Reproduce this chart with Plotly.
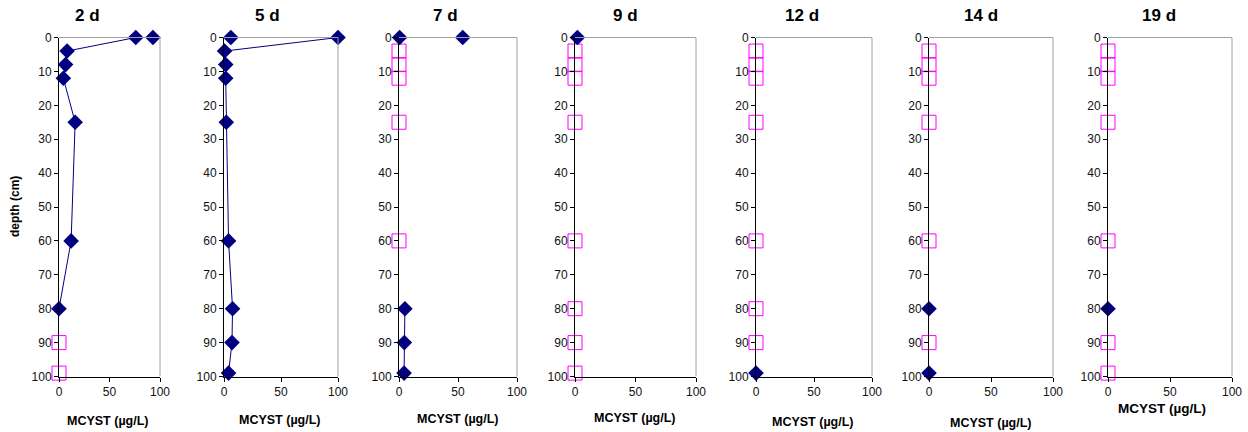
import plotly.graph_objects as go

W, H = 1248, 432

# ---------------- data ----------------
day_labels = ["2 d", "5 d", "7 d", "9 d", "12 d", "14 d", "19 d"]
depths = [0, 0, 4, 8, 12, 25, 60, 80, 90, 99]
N = None

# measured MCYST (µg/L), aligned with depths
mcyst_2d = [93, 76, 8, 6.5, 4.3, 16, 12, 0, N, N]
mcyst_5d = [6, 100, 0.5, 1.5, 1.5, 2, 4, 7.5, 7, 4]
mcyst_7d = [0.5, 54, N, N, N, N, N, 5, 4.5, 4.3]
mcyst_9d = [2, N, N, N, N, N, N, N, N, N]
mcyst_12d = [N, N, N, N, N, N, N, N, N, 0]
mcyst_14d = [N, N, N, N, N, N, N, 0, N, 0]
mcyst_19d = [N, N, N, N, N, N, N, 0, N, N]

# below detection limit markers, aligned with depths
bdl_2d = [N, N, N, N, N, N, N, N, 0, 0]
bdl_5d = [N, N, N, N, N, N, N, N, N, N]
bdl_7d = [N, N, 0, 0, 0, 0, 0, N, N, N]
bdl_9d = [N, N, 0, 0, 0, 0, 0, 0, 0, 0]
bdl_12d = [N, N, 0, 0, 0, 0, 0, 0, 0, N]
bdl_14d = [N, N, 0, 0, 0, 0, 0, N, 0, N]
bdl_19d = [N, N, 0, 0, 0, 0, 0, N, 0, 0]

mcyst = [mcyst_2d, mcyst_5d, mcyst_7d, mcyst_9d, mcyst_12d, mcyst_14d, mcyst_19d]
bdl = [bdl_2d, bdl_5d, bdl_7d, bdl_9d, bdl_12d, bdl_14d, bdl_19d]

x_ticks = [0, 50, 100]
y_ticks = [0, 10, 20, 30, 40, 50, 60, 70, 80, 90, 100]
x_title = "MCYST (µg/L)"
y_title = "depth (cm)"

# ---------------- layout geometry (pixels) ----------------
px_left = [59, 224, 399, 575, 756, 929, 1108]
px_right = [160, 338, 517, 696, 872, 1053, 1232]
px_top, px_bottom = 37.5, 376.5
title_x = [87, 267, 445, 625, 802, 981, 1159]
xtitle_x = [108, 280, 458, 635, 813, 991, 1162]
xtitle_y = [421, 420, 419, 418, 422, 423, 408]
xtitle_size = [12.5, 12.5, 12.5, 12.5, 12.5, 12.5, 13.5]

FONT = "Liberation Sans, Arial, sans-serif"
NAVY = "#000080"
PINK = "#FF00FF"
GREY = "#A0A0A0"

fig = go.Figure()
layout = dict(
    width=W, height=H,
    margin=dict(l=0, r=0, t=0, b=0, autoexpand=False),
    paper_bgcolor="white", plot_bgcolor="white",
    showlegend=False, hovermode=False,
    font=dict(family=FONT, size=12, color="black"),
)
shapes = []
annotations = []

for i in range(len(day_labels)):
    n = "" if i == 0 else str(i + 1)
    xa, ya = "x" + n, "y" + n
    fig.add_trace(go.Scatter(
        x=bdl[i], y=depths, xaxis=xa, yaxis=ya, mode="markers",
        marker=dict(symbol="square-open", size=14, color=PINK,
                    line=dict(width=1, color=PINK)),
        cliponaxis=False))
    fig.add_trace(go.Scatter(
        x=mcyst[i], y=depths, xaxis=xa, yaxis=ya, mode="lines+markers",
        line=dict(color=NAVY, width=1), connectgaps=False,
        marker=dict(symbol="diamond", size=12, color=NAVY),
        cliponaxis=False))
    layout["xaxis" + n] = dict(
        domain=[px_left[i] / W, px_right[i] / W], anchor=ya,
        range=[0, 100], tickvals=x_ticks, showgrid=False, zeroline=False,
        showline=True, linecolor="black", linewidth=1, automargin=False,
        ticks="outside", ticklen=4, tickcolor="black",
        tickfont=dict(size=12, color="#111"), fixedrange=True)
    layout["yaxis" + n] = dict(
        domain=[1 - px_bottom / H, 1 - px_top / H], anchor=xa,
        range=[100, 0], tickvals=y_ticks, showgrid=False, zeroline=False,
        showline=True, linecolor="black", linewidth=1, automargin=False,
        ticks="outside", ticklen=4, tickcolor="black",
        tickfont=dict(size=12, color="#111"), fixedrange=True)
    # grey top and right frame
    shapes.append(dict(type="line", xref=xa + " domain", yref=ya + " domain",
                       x0=0, x1=1, y0=1, y1=1, line=dict(color=GREY, width=1)))
    shapes.append(dict(type="line", xref=xa + " domain", yref=ya + " domain",
                       x0=1, x1=1, y0=0, y1=1, line=dict(color=GREY, width=1)))
    annotations.append(dict(
        text="<b>%s</b>" % day_labels[i], x=title_x[i] / W, y=1 - 16 / H,
        xref="paper", yref="paper", showarrow=False, xanchor="center",
        yanchor="middle", font=dict(size=17, family=FONT, color="black")))
    annotations.append(dict(
        text="<b>%s</b>" % x_title, x=xtitle_x[i] / W, y=1 - xtitle_y[i] / H,
        xref="paper", yref="paper", showarrow=False, xanchor="center",
        yanchor="middle", font=dict(size=xtitle_size[i], family=FONT, color="black")))

annotations.append(dict(
    text="<b>%s</b>" % y_title, x=15 / W, y=1 - 207 / H, xref="paper", yref="paper",
    showarrow=False, textangle=-90, xanchor="center", yanchor="middle",
    font=dict(size=12, family=FONT, color="black")))

layout["shapes"] = shapes
layout["annotations"] = annotations
fig.update_layout(**layout)
fig.write_html("out.html",
               config={"displayModeBar": False, "staticPlot": True},
               post_script="document.body.style.margin='0';document.body.style.overflow='hidden';")
